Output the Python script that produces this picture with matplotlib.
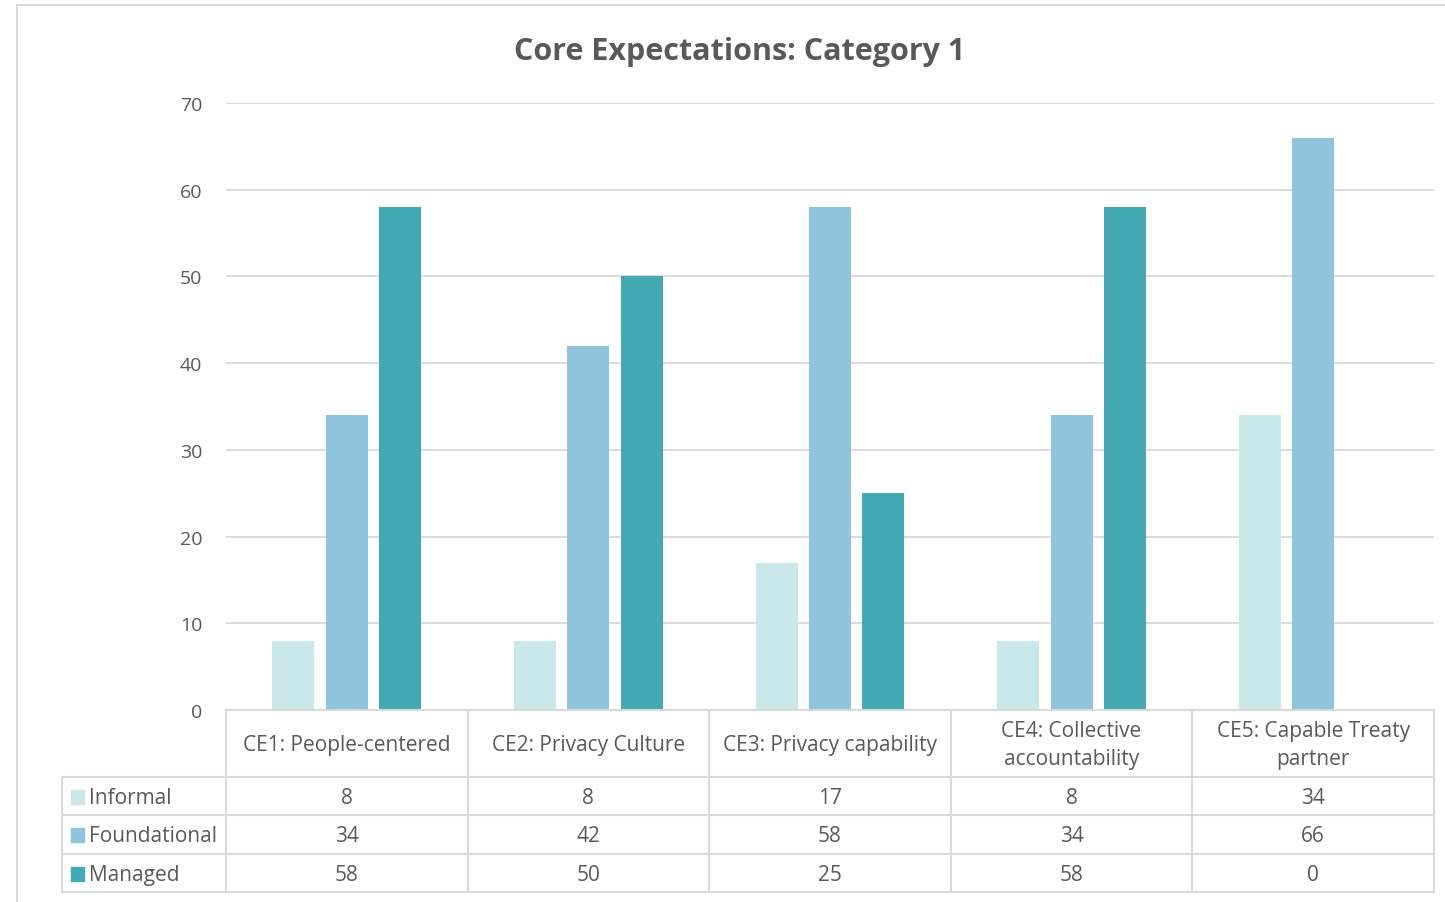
import matplotlib.pyplot as plt
from matplotlib.patches import Rectangle
from matplotlib.lines import Line2D

categories = ["CE1: People-centered", "CE2: Privacy Culture", "CE3: Privacy capability",
              "CE4: Collective\naccountability", "CE5: Capable Treaty\npartner"]
series = ["Informal", "Foundational", "Managed"]
informal = [8, 8, 17, 8, 34]
foundational = [34, 42, 58, 34, 66]
managed = [58, 50, 25, 58, 0]
values = [informal, foundational, managed]
colors = ["#C9E8EA", "#8EC4DE", "#42A9B5"]

grid_col = "#D9D9D9"
text_col = "#595959"
plt.rcParams["font.family"] = ["Open Sans", "DejaVu Sans"]

W, H = 1445, 903
fig = plt.figure(figsize=(W / 100, H / 100), dpi=100)


def fx(px):
    return px / W


def fy(py):
    return 1 - py / H


# outer chart frame (left and top edges visible)
fig.add_artist(Line2D([fx(17), fx(17)], [fy(6), 0], color=grid_col, lw=1.5))
fig.add_artist(Line2D([fx(17), 1], [fy(6), fy(6)], color=grid_col, lw=1.5))

fig.text(fx(740), fy(52), "Core Expectations: Category 1", ha="center", va="center",
         fontsize=22, fontweight="bold", color=text_col)

# bar area
ax = fig.add_axes([fx(226), fy(711), fx(1434) - fx(226), fy(104) - fy(711)])
x = range(len(categories))
width = 0.174
step = 0.221
for i, (vals, c) in enumerate(zip(values, colors)):
    ax.bar([k + (i - 1) * step for k in x], vals, width=width, color=c, zorder=2)
ax.set_xlim(-0.5, len(categories) - 0.5)
ax.set_ylim(0, 70)
ax.set_yticks(range(0, 71, 10))
ax.yaxis.grid(True, color=grid_col, lw=1.3)
ax.set_axisbelow(True)
ax.tick_params(axis="y", length=0, pad=17, labelsize=14, labelcolor=text_col)
ax.tick_params(axis="x", length=0, labelbottom=False)
for s in ax.spines.values():
    s.set_visible(False)

# data table below
lab_w = (226 - 62) / ((1434 - 226) / 5)
tab = fig.add_axes([fx(62), fy(893), fx(1434) - fx(62), fy(711) - fy(893)])
tab.set_xlim(-0.5 - lab_w, len(categories) - 0.5)
tab.set_ylim(182, 0)
tab.axis("off")
row_tops = [0, 67, 105, 144, 182]
lw = 1.5
# horizontal lines
tab.plot([-0.5, 4.5], [0, 0], color=grid_col, lw=lw, clip_on=False)
for yv in row_tops[1:]:
    tab.plot([-0.5 - lab_w, 4.5], [yv, yv], color=grid_col, lw=lw, clip_on=False)
# vertical lines
tab.plot([-0.5 - lab_w, -0.5 - lab_w], [67, 182], color=grid_col, lw=lw, clip_on=False)
for k in range(len(categories) + 1):
    tab.plot([k - 0.5, k - 0.5], [0, 182], color=grid_col, lw=lw, clip_on=False)

fs = 15
for k, cat in enumerate(categories):
    tab.text(k, 34.5, cat, ha="center", va="center", fontsize=fs, color=text_col,
             linespacing=1.4)
for r, (name, vals, c) in enumerate(zip(series, values, colors)):
    yc = (row_tops[r + 1] + row_tops[r + 2]) / 2 + 1.5
    tab.add_patch(Rectangle((-0.5 - lab_w + 0.038, yc - 8), 0.055, 14, color=c))
    tab.text(-0.5 - lab_w + 0.113, yc, name, ha="left", va="center", fontsize=fs,
             color=text_col)
    for k, v in enumerate(vals):
        tab.text(k, yc, str(v), ha="center", va="center", fontsize=fs, color=text_col)

fig.savefig("out.png", dpi=100)
